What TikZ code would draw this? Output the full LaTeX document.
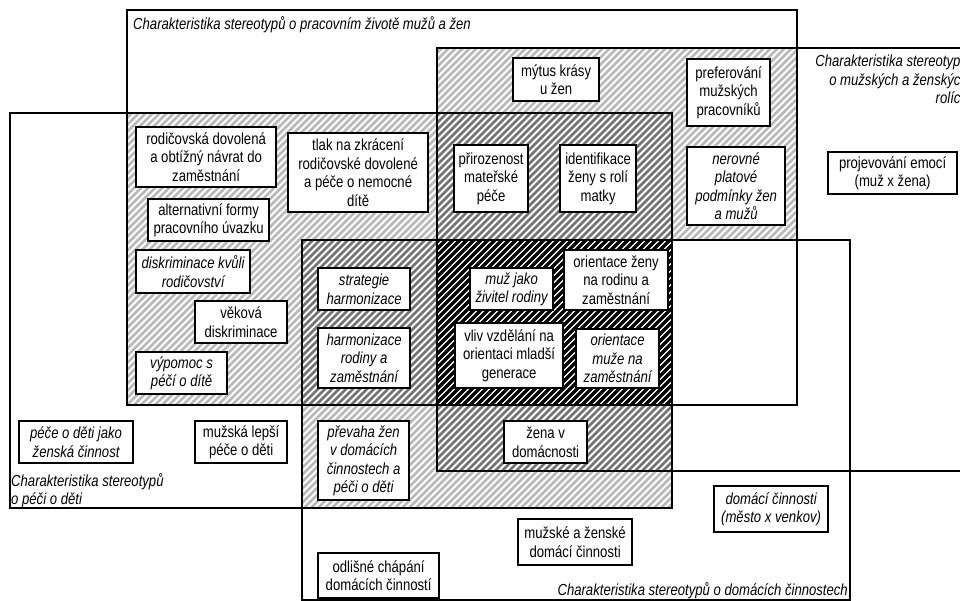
\documentclass[tikz,border=0pt]{standalone}
\usepackage{fontspec}
\setmainfont{Liberation Sans}[FakeStretch=0.82]
\definecolor{hlight}{RGB}{185,185,185}
\definecolor{hmid}{RGB}{115,115,115}
\newcommand\hatchrect[5]{%
  \begin{scope}
    \clip (#1,#2) rectangle (#3,#4);
    \pgfmathtruncatemacro\hkA{floor((#1+#2)/7)-1}
    \pgfmathtruncatemacro\hkB{ceil((#3+#4)/7)+1}
    \foreach \k in {\hkA,...,\hkB}{\draw[#5] ({7*\k-#2+3},#2-3) -- ({7*\k-#4-3},#4+3);}
  \end{scope}}
\begin{document}
\begin{tikzpicture}[x=1pt,y=-1pt,
  txt/.style={font=\fontsize{16}{18.5}\selectfont},
  bx/.style={draw=black, line width=2.2pt, fill=white, align=center, inner sep=0pt, anchor=north west, txt},
  itbx/.style={bx, font=\fontsize{16}{18.5}\selectfont\itshape},
  ttl/.style={font=\fontsize{16}{18.5}\selectfont\itshape, inner sep=0pt},
  setline/.style={line width=2.8pt, draw=black},
  hl/.style={line width=2.6pt, draw=hlight},
  hm/.style={line width=2.6pt, draw=hmid},
  hd/.style={line width=3.2pt, draw=black}]
\useasboundingbox (0,0) rectangle (960,601);
\clip (0,0) rectangle (960,601);
\fill[white] (0,0) rectangle (960,601);
% hatched regions
\hatchrect{127}{113}{437}{240}{hl}
\hatchrect{127}{240}{302}{405}{hl}
\hatchrect{437}{48}{797}{113}{hl}
\hatchrect{672}{113}{797}{240}{hl}
\hatchrect{302}{405}{437}{508}{hl}
\hatchrect{437}{471}{672}{508}{hl}
\hatchrect{302}{240}{437}{405}{hm}
\hatchrect{437}{113}{672}{240}{hm}
\hatchrect{437}{405}{672}{471}{hm}
\hatchrect{437}{240}{672}{405}{hd}
% set outlines
\draw[setline] (127,10) rectangle (797,405);
\draw[setline] (437,48) rectangle (980,471);
\draw[setline] (10,113) rectangle (672,508);
\draw[setline] (302,240) rectangle (850,600.5);
% titles
\node[ttl, anchor=base west] (tA) at (133,30) {Charakteristika stereotypů o pracovním životě mužů a žen};
\node[ttl, anchor=base east] (tB1) at (968,67) {Charakteristika stereotypů};
\node[ttl, anchor=base east] (tB2) at (968,86) {o mužských a ženských};
\node[ttl, anchor=base east] (tB3) at (968,104) {rolích};
\node[ttl, anchor=base west] (tC1) at (11,486) {Charakteristika stereotypů};
\node[ttl, anchor=base west] (tC2) at (11,504) {o péči o děti};
\node[ttl, anchor=base east] (tD) at (848,595) {Charakteristika stereotypů o domácích činnostech};
% boxes
\node[bx, minimum width=140pt, minimum height=60pt] (n1) at (135,126) {rodičovská dovolená\\a obtížný návrat do\\zaměstnání};
\node[bx, minimum width=140pt, minimum height=79pt] (n2) at (287,132) {tlak na zkrácení\\rodičovské dovolené\\a péče o nemocné\\dítě};
\node[bx, minimum width=121pt, minimum height=42pt] (n3) at (147,198) {alternativní formy\\pracovního úvazku};
\node[itbx, minimum width=114pt, minimum height=43pt] (n4) at (135,249) {diskriminace kvůli\\rodičovství};
\node[bx, minimum width=92pt, minimum height=42pt] (n5) at (194,300) {věková\\diskriminace};
\node[itbx, minimum width=91pt, minimum height=42pt] (n6) at (135,351) {výpomoc s\\péčí o dítě};
\node[itbx, minimum width=92pt, minimum height=42pt] (n7) at (317,267) {strategie\\harmonizace};
\node[itbx, minimum width=92pt, minimum height=60pt] (n8) at (317,327) {harmonizace\\rodiny a\\zaměstnání};
\node[bx, minimum width=86pt, minimum height=43pt] (n9) at (512,57) {mýtus krásy\\u žen};
\node[bx, minimum width=83pt, minimum height=67pt] (n10) at (686,58) {preferování\\mužských\\pracovníků};
\node[bx, minimum width=74pt, minimum height=67pt] (n11) at (453,144) {přirozenost\\mateřské\\péče};
\node[bx, minimum width=76pt, minimum height=67pt] (n12) at (559,144) {identifikace\\ženy s rolí\\matky};
\node[itbx, minimum width=98pt, minimum height=78pt] (n13) at (686,146) {nerovné\\platové\\podmínky žen\\a mužů};
\node[bx, minimum width=129pt, minimum height=42pt] (n14) at (827,151) {projevování emocí\\(muž x žena)};
\node[itbx, minimum width=83pt, minimum height=42pt] (n15) at (469,267) {muž jako\\živitel rodiny};
\node[bx, minimum width=104pt, minimum height=60pt] (n16) at (563,249) {orientace ženy\\na rodinu a\\zaměstnání};
\node[bx, minimum width=108pt, minimum height=65pt] (n17) at (454,322) {vliv vzdělání na\\orientaci mladší\\generace};
\node[itbx, minimum width=83pt, minimum height=59pt] (n18) at (575,328) {orientace\\muže na\\zaměstnání};
\node[itbx, minimum width=114pt, minimum height=42pt] (n19) at (18,420) {péče o děti jako\\ženská činnost};
\node[bx, minimum width=92pt, minimum height=42pt] (n20) at (194,420) {mužská lepší\\péče o děti};
\node[itbx, minimum width=91pt, minimum height=79pt] (n21) at (317,420) {převaha žen\\v domácích\\činnostech a\\péči o děti};
\node[bx, minimum width=121pt, minimum height=45pt] (n22) at (317,552) {odlišné chápání\\domácích činností};
\node[bx, minimum width=83pt, minimum height=42pt] (n23) at (503,420) {žena v\\domácnosti};
\node[bx, minimum width=114pt, minimum height=46pt] (n24) at (517,518) {mužské a ženské\\domácí činnosti};
\node[itbx, minimum width=114pt, minimum height=46pt] (n25) at (713,485) {domácí činnosti\\(město x venkov)};
\end{tikzpicture}
\end{document}
